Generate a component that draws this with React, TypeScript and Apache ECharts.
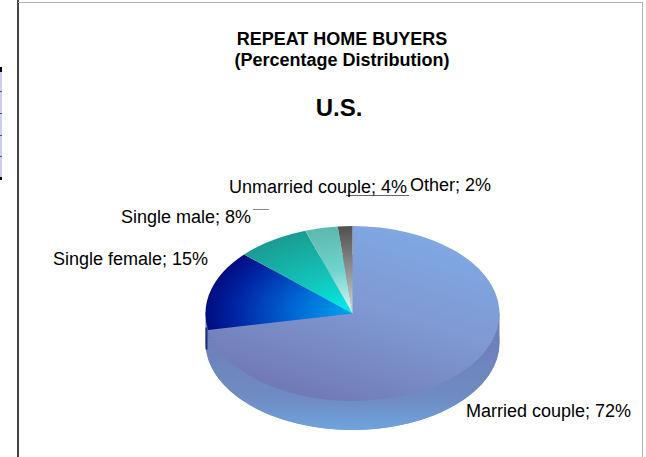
import React, { useEffect, useRef } from "react";
import * as echarts from "echarts";

const categories = ["Married couple", "Single female", "Single male", "Unmarried couple", "Other"];
const labelValues = [72, 15, 8, 4, 2];
const sliceShares = [72, 14.8, 8, 3.6, 1.6];
const titleText = "REPEAT HOME BUYERS\n(Percentage Distribution)";
const regionText = "U.S.";

const CX = 352.5, CY = 313.5, RX = 147, RY = 87.5, DEPTH = 29;
const FONT = "'Liberation Sans', Arial, sans-serif";
const labelAnchors = [[466, 411], [53, 259], [121, 217], [229, 187], [410, 185]];

const fills: any[] = [
  { type: "linear", x: 0.85, y: 0, x2: 0.3, y2: 1, colorStops: [{ offset: 0, color: "#7fabe6" }, { offset: 0.5, color: "#7f98d2" }, { offset: 1, color: "#6f78b2" }] },
  { type: "radial", global: true, x: 0, y: 0, r: RX, colorStops: [{ offset: 0, color: "#00a4f0" }, { offset: 0.4, color: "#0068d4" }, { offset: 0.8, color: "#0024a4" }, { offset: 1, color: "#000c80" }] },
  { type: "radial", global: true, x: 0, y: 0, r: RX, colorStops: [{ offset: 0, color: "#00f0e8" }, { offset: 0.5, color: "#14c0b6" }, { offset: 1, color: "#1a9c92" }] },
  { type: "radial", global: true, x: 0, y: 0, r: RX, colorStops: [{ offset: 0, color: "#e0f8f4" }, { offset: 0.5, color: "#70d4cc" }, { offset: 1, color: "#5cb8b0" }] },
  { type: "radial", global: true, x: 0, y: 0, r: RX, colorStops: [{ offset: 0, color: "#d8d8d8" }, { offset: 0.5, color: "#909090" }, { offset: 1, color: "#505050" }] },
];

export default function App() {
  const ref = useRef<HTMLDivElement>(null);
  useEffect(() => {
    document.body.style.margin = "0";
    const chart = echarts.init(ref.current!, undefined, { renderer: "svg" });
    const total = sliceShares.reduce((a, b) => a + b, 0);
    const rimFill = {
      type: "linear", x: 0, y: 0, x2: 0, y2: 1,
      colorStops: [{ offset: 0, color: "#6f80b8" }, { offset: 0.65, color: "#6f8cc4" }, { offset: 1, color: "#6fa4dc" }],
    };
    chart.setOption({
      animation: false,
      backgroundColor: "#ffffff",
      title: [
        { text: titleText, left: 337, top: 23, textAlign: "center",
          textStyle: { fontFamily: FONT, fontSize: 18, fontWeight: "bold", color: "#000", lineHeight: 21 } },
        { text: regionText, left: 334, top: 90, textAlign: "center",
          textStyle: { fontFamily: FONT, fontSize: 24, fontWeight: "bold", color: "#000" } },
      ],
      graphic: [
        { type: "line", shape: { x1: 18, y1: 0, x2: 18, y2: 457 }, style: { stroke: "#444444", lineWidth: 2 } },
        { type: "line", shape: { x1: 18, y1: 2.5, x2: 643, y2: 2.5 }, style: { stroke: "#b0b0b0", lineWidth: 1 } },
        { type: "line", shape: { x1: 642.5, y1: 2, x2: 642.5, y2: 457 }, style: { stroke: "#b0b0b0", lineWidth: 1 } },
        { type: "rect", shape: { x: 0, y: 67, width: 2, height: 112 }, style: { fill: "#ccccff" } },
        { type: "rect", shape: { x: 0, y: 67, width: 2, height: 5 }, style: { fill: "#000000" } },
        { type: "rect", shape: { x: 0, y: 177, width: 2, height: 3 }, style: { fill: "#000000" } },
        { type: "rect", shape: { x: 0, y: 91, width: 2, height: 1 }, style: { fill: "#555555" } },
        { type: "rect", shape: { x: 0, y: 113, width: 2, height: 1 }, style: { fill: "#555555" } },
        { type: "rect", shape: { x: 0, y: 135, width: 2, height: 1 }, style: { fill: "#555555" } },
        { type: "rect", shape: { x: 0, y: 156, width: 2, height: 1 }, style: { fill: "#555555" } },
        { type: "line", shape: { x1: 346, y1: 195.5, x2: 409, y2: 195.5 }, style: { stroke: "#666666", lineWidth: 1 } },
        { type: "line", shape: { x1: 253, y1: 209.5, x2: 269, y2: 209.5 }, style: { stroke: "#888888", lineWidth: 1 } },
      ],
      series: [
        {
          type: "custom",
          coordinateSystem: "none",
          clip: false,
          data: sliceShares.map((v, i) => ({ value: v, name: categories[i] })),
          renderItem: (params: any, api: any) => {
            const i = params.dataIndex;
            const before = sliceShares.slice(0, i).reduce((a, b) => a + b, 0);
            const a0 = -Math.PI / 2 + (before / total) * Math.PI * 2;
            const a1 = -Math.PI / 2 + ((before + api.value(0)) / total) * Math.PI * 2;
            const children: any[] = [];
            if (i === 0) {
              children.push({
                type: "group", x: CX, y: CY + DEPTH, scaleY: RY / RX,
                children: [{ type: "circle", shape: { cx: 0, cy: 0, r: RX }, style: { fill: "#6fa0d6" } }],
              });
              children.push({ type: "rect", shape: { x: CX - RX, y: CY, width: RX * 2, height: DEPTH }, style: { fill: "#6f80b8" } });
              children.push({
                type: "group", x: CX, y: CY + DEPTH, scaleY: RY / RX,
                children: [{ type: "sector", shape: { cx: 0, cy: 0, r0: 0, r: RX, startAngle: 0, endAngle: Math.PI }, style: { fill: rimFill } }],
              });
              children.push({ type: "rect", shape: { x: CX - RX, y: CY + 14, width: 2, height: 22 }, style: { fill: "#16307e" } });
            }
            children.push({
              type: "group", x: CX, y: CY, scaleY: RY / RX,
              children: [{
                type: "sector",
                shape: { cx: 0, cy: 0, r0: 0, r: RX, startAngle: a0, endAngle: a1, clockwise: true },
                style: { fill: fills[i], stroke: "none" },
              }],
            });
            children.push({
              type: "text", x: labelAnchors[i][0], y: labelAnchors[i][1],
              style: {
                text: `${categories[i]}; ${labelValues[i]}%`,
                fontFamily: FONT, fontSize: 18, fill: "#000000",
                align: "left", verticalAlign: "middle",
              },
            });
            return { type: "group", children };
          },
        },
      ],
    });
    return () => chart.dispose();
  }, []);
  return <div ref={ref} style={{ position: "absolute", left: 0, top: 0, width: 646, height: 457 }} />;
}
